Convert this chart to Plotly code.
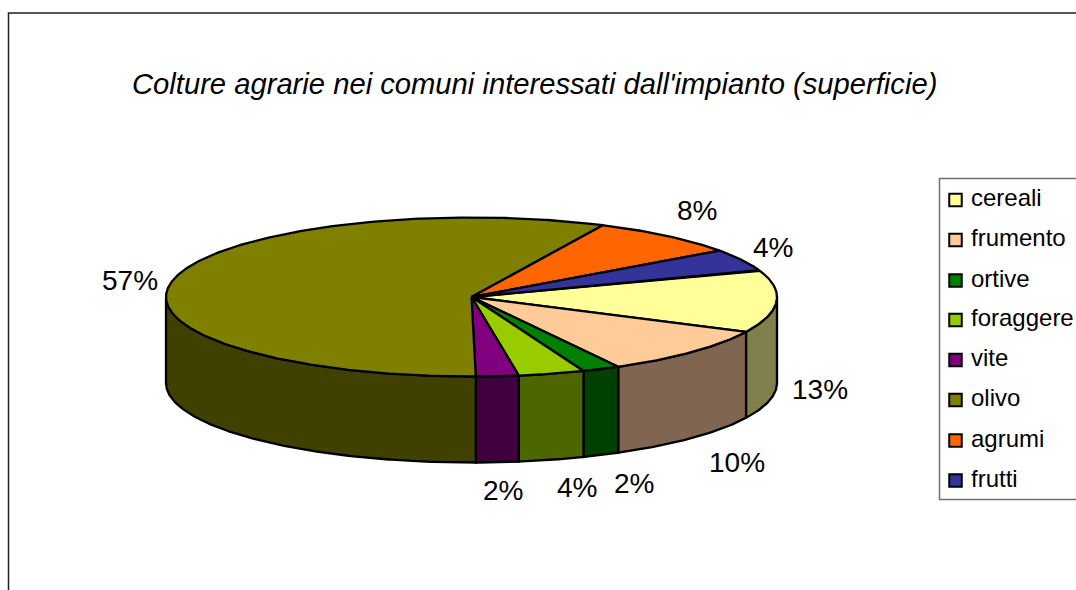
import math
import plotly.graph_objects as go

categories = ["cereali", "frumento", "ortive", "foraggere", "vite", "olivo", "agrumi", "frutti"]
values = [12.7, 9.8, 2.0, 3.5, 2.25, 57.3, 8.0, 4.45]
top_colors = ["#FFFF99", "#FFCC99", "#008000", "#99CC00", "#800080", "#808000", "#FF6600", "#333399"]
side_colors = ["#80804D", "#806650", "#004000", "#4D6600", "#400040", "#404000", "#803300", "#1A1A4D"]
title_text = "Colture agrarie nei comuni interessati dall'impianto (superficie)"

FONT = "Liberation Sans, Arial, sans-serif"
CX, CY, RX, RY, DEPTH = 471.5, 297, 305.5, 79.5, 86
START_DEG = -19.7
W, H = 1076, 590
label_pos = [(820, 389), (737, 462), (634, 483), (577, 487), (503, 490), (130, 280), (697, 210), (773, 247)]
legend_y = [200, 240, 280.5, 320, 360, 400, 440.5, 480.5]


def pt(deg, dy=0):
    r = math.radians(deg)
    return CX + RX * math.cos(r), CY + RY * math.sin(r) + dy


def arc(a, b, dy=0):
    n = max(2, int(abs(b - a) * 2))
    pts = [pt(a + (b - a) * i / n, dy) for i in range(n + 1)]
    return [p[0] for p in pts], [p[1] for p in pts]


total = sum(values)
spans = []
a = START_DEG
for v in values:
    b = a + 360 * v / total
    spans.append((a, b))
    a = b

fig = go.Figure()

# sides (front half of the cylinder only)
for (a, b), col in zip(spans, side_colors):
    lo, hi = max(a, 0), min(b, 180)
    if lo >= hi:
        continue
    x1, y1 = arc(lo, hi)
    x2, y2 = arc(hi, lo, DEPTH)
    fig.add_trace(go.Scatter(x=x1 + x2 + [x1[0]], y=y1 + y2 + [y1[0]], mode="lines", fill="toself",
                             fillcolor=col, line=dict(color="black", width=2.3), hoverinfo="skip", showlegend=False))

# top faces
for (a, b), col, name in zip(spans, top_colors, categories):
    x1, y1 = arc(a, b)
    fig.add_trace(go.Scatter(x=[CX] + x1 + [CX], y=[CY] + y1 + [CY], mode="lines", fill="toself", name=name,
                             fillcolor=col, line=dict(color="black", width=2.3), showlegend=False))

# legend
fig.add_shape(type="rect", x0=939.5, x1=W + 5, y0=178.5, y1=499.5, line=dict(color="#707070", width=1.5),
              fillcolor="white", layer="below")
fig.add_trace(go.Scatter(x=[955.5] * len(categories), y=legend_y, mode="markers+text",
                         marker=dict(symbol="square", size=12.5, color=top_colors, line=dict(color="black", width=2)),
                         text=[" " + c for c in categories], textposition="middle right",
                         textfont=dict(family=FONT, size=24, color="black"), hoverinfo="skip", showlegend=False))

# chart frame
fig.add_shape(type="rect", x0=8.5, x1=W + 5, y0=13, y1=H + 5, line=dict(color="#202020", width=1.5), layer="below")

for v, (lx, ly) in zip(values, label_pos):
    fig.add_annotation(x=lx, y=ly, text=f"{round(v)}%", showarrow=False, font=dict(family=FONT, size=28, color="black"))

fig.add_annotation(x=534.5, y=84, text=f"<i>{title_text}</i>", showarrow=False,
                   font=dict(family=FONT, size=29.2, color="black"))

fig.update_layout(
    width=W, height=H, margin=dict(l=0, r=0, t=0, b=0),
    paper_bgcolor="white", plot_bgcolor="white", showlegend=False,
    xaxis=dict(range=[0, W], visible=False, fixedrange=True),
    yaxis=dict(range=[H, 0], visible=False, fixedrange=True),
)
fig.write_html("out.html", config={"displayModeBar": False},
               post_script="document.body.style.margin='0';document.documentElement.style.overflow='hidden';")
